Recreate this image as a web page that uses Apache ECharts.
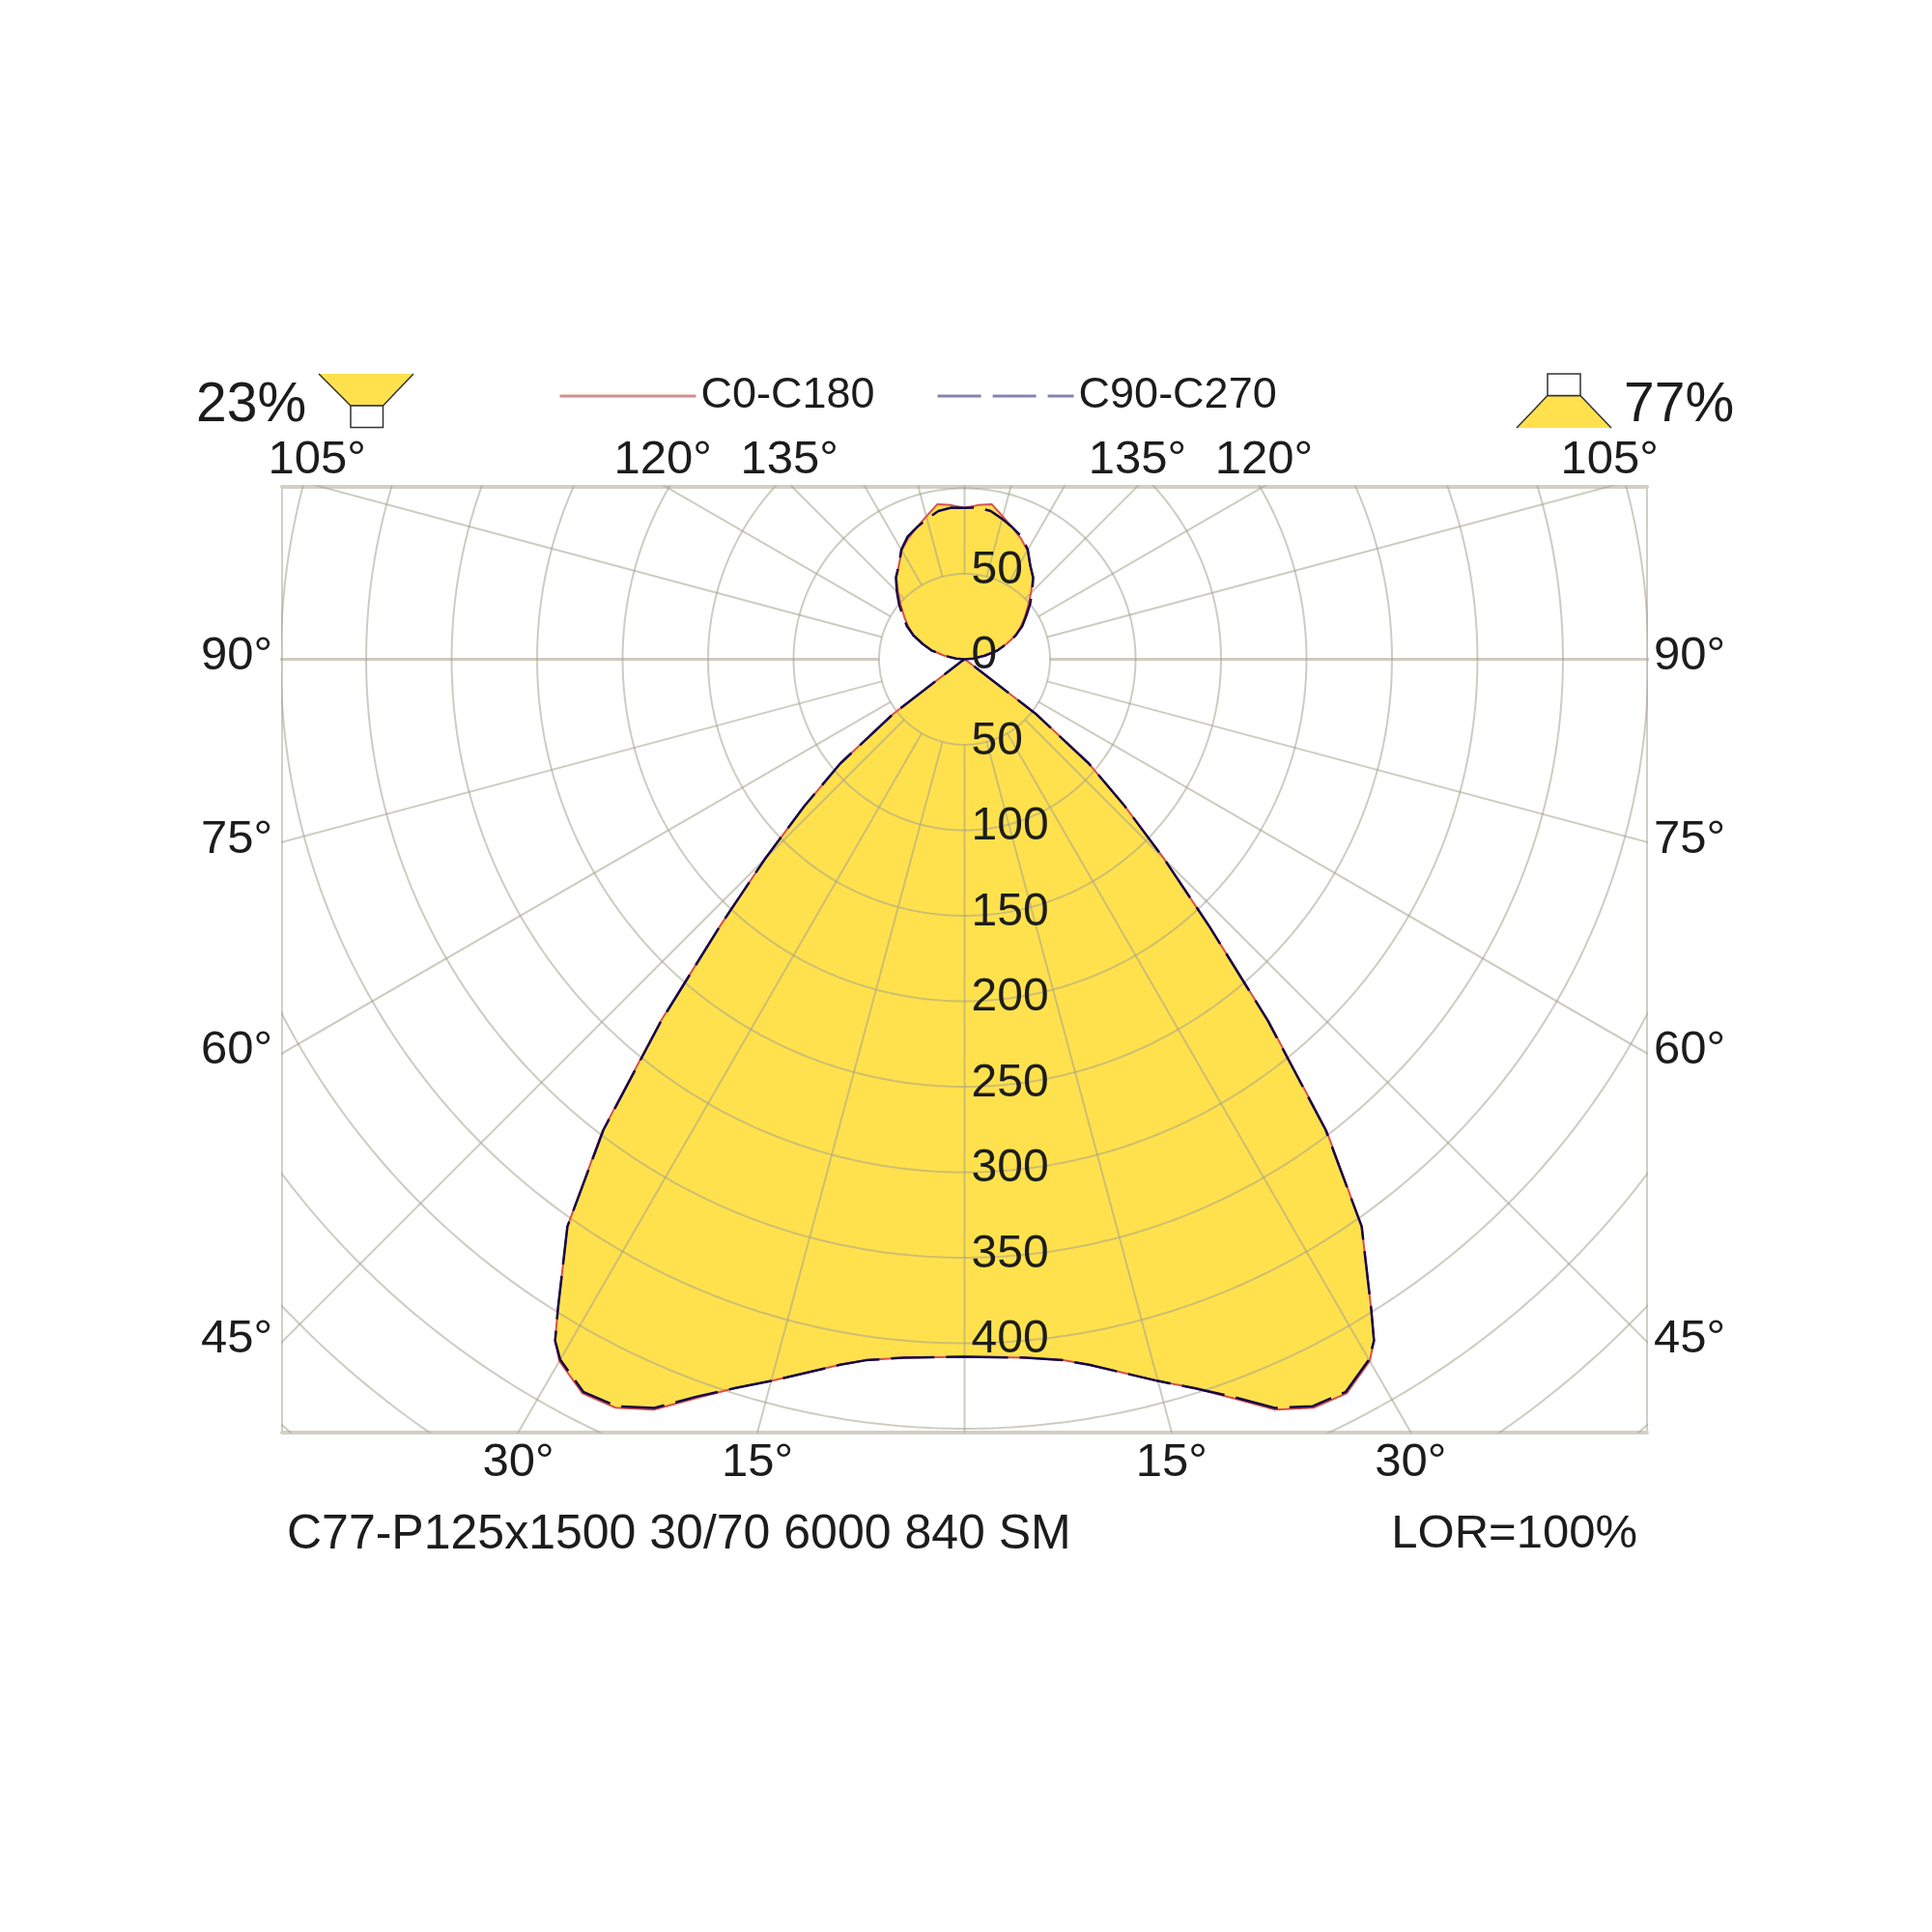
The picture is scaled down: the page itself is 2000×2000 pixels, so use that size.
<!DOCTYPE html>
<html>
<head>
<meta charset="utf-8">
<style>html,body{margin:0;padding:0;background:#fff}#c{width:2000px;height:2000px}</style>
<script src="https://cdn.jsdelivr.net/npm/echarts@6/dist/echarts.min.js"></script>
</head>
<body>
<div id="c"></div>
<script>
// Data: gamma in degrees (0 = straight down), intensity in cd/klm
const gammas = [0,5,8,10,15,17.5,20,22.5,25,27.5,30,31,32,35,37.5,40,42.5,45,47.5,50,52.5,55,60,90,95,100,105,110,115,120,125,130,135,140,145,150,155,160,165,170,175,180];
const c0c180 = [408,410,414,419,437,447,460,475,483,484,474,465,449,405,348,277,212,165,127,95,53,3,0,0,5,12,20,26,33,38,43,48.5,55,62,67,73.5,78,82,86.5,92,90.5,88.5];
const c90c270 = [408,410,414,419,437,447,459,474,482,483,473,465,449,405,347,276,212,165,127,95,53,3,0,0,5,12,20,26,33,39,44,50,56,62.5,67,74,79,82,85,88,89,88.5];
const radialTicks = [0,50,100,150,200,250,300,350,400];
const upperRadialTicks = [50];
const circleValues = [50,100,150,200,250,300,350,400,450,500,550,600,650];
const spokeAngles = [15,30,45,60,75,105,120,135,150,165];
const topAngleTicks = [105,120,135];
const sideAngleTicks = [90,75,60,45];
const bottomAngleTicks = [30,15];
const seriesNames = ['C0-C180','C90-C270'];
const captionLeft = 'C77-P125x1500 30/70 6000 840 SM';
const captionRight = 'LOR=100%';
const upShare = '23%';
const downShare = '77%';

// Visible window of the intensity scale
const xHalf = 399.2, yTop = 101.1, yBottom = -452;
const FONT = '"Liberation Sans", Arial, sans-serif';
const TXT = '#1c1c1c';
const GRID = 'rgba(165,162,140,0.55)';
const rad = d => d * Math.PI / 180;
const toXY = (g, r, side) => [side * r * Math.sin(rad(g)), -r * Math.cos(rad(g))];

function outline(vals) {
  const right = gammas.map((g, i) => toXY(g, vals[i], 1));
  const left = gammas.map((g, i) => toXY(g, vals[i], -1)).reverse();
  return right.concat(left);
}
const c0Pts = outline(c0c180), c90Pts = outline(c90c270);

// gridlines
const GAP = [NaN, NaN];
const arcPts = [];
circleValues.forEach(r => {
  for (let a = 0; a <= 720; a++) { const t = rad(a / 2); arcPts.push([r * Math.sin(t), r * Math.cos(t)]); }
  arcPts.push(GAP);
});
const spokePts = [];
spokeAngles.forEach(g => [1, -1].forEach(s => {
  spokePts.push(toXY(g, 50, s), toXY(g, 900, s), GAP);
}));
spokePts.push([0, -50], [0, -900], GAP, [0, 50], [0, 900], GAP);
const midPts = [[-900, 0], [-50, 0], GAP, [50, 0], [900, 0]];

const gridLine = (name, data, width) => ({
  type: 'line', name, data, showSymbol: false, symbol: 'none', silent: true, z: 3, clip: true,
  connectNulls: false, lineStyle: { color: GRID, width }, legendHoverLink: false, tooltip: { show: false }
});

// labels placed on scale positions
const labelSeries = (name, data, label, size) => ({
  type: 'scatter', name, data, symbolSize: 1, silent: true, z: 10, clip: false,
  itemStyle: { color: 'transparent', opacity: 1 },
  label: Object.assign({
    show: true, formatter: p => p.name, position: 'inside', color: TXT,
    fontFamily: FONT, fontSize: size, verticalAlign: 'middle'
  }, label)
});
const tan = d => Math.tan(rad(d));

const deg = v => v + '°';
const topPts = [];
topAngleTicks.forEach(g => [1, -1].forEach(s => topPts.push({
  name: deg(g), value: [s * yTop * tan(180 - g), yTop], label: { offset: [s < 0 ? -2.5 : 0, -27.5] }
})));
const botPts = [];
bottomAngleTicks.forEach(g => [1, -1].forEach(s => botPts.push({ name: deg(g), value: [s * -yBottom * tan(g), yBottom] })));
const sidePt = (g, s) => ({ name: deg(g), value: [s * xHalf, g === 90 ? 0 : -xHalf / tan(g)] });

const option = {
  animation: false,
  backgroundColor: '#fff',
  grid: { left: 292, top: 503.5, width: 1413, height: 979, show: true, borderColor: '#d2cfc5', borderWidth: 2, backgroundColor: 'transparent' },
  xAxis: [
    { type: 'value', min: -xHalf, max: xHalf, position: 'bottom', axisLabel: { show: false }, axisTick: { show: false }, splitLine: { show: false }, axisLine: { onZero: false, show: true, lineStyle: { color: '#d2cfc5', width: 4 } } },
    { type: 'value', min: -xHalf, max: xHalf, position: 'top', axisLabel: { show: false }, axisTick: { show: false }, splitLine: { show: false }, axisLine: { onZero: false, show: true, lineStyle: { color: '#d2cfc5', width: 4 } } }
  ],
  yAxis: { type: 'value', min: yBottom, max: yTop, axisLabel: { show: false }, axisTick: { show: false }, splitLine: { show: false }, axisLine: { show: false } },
  legend: {
    show: true, left: 573, top: 382.5, itemWidth: 141, itemHeight: 40, itemGap: 63.5, selectedMode: false,
    textStyle: { fontFamily: FONT, fontSize: 45, color: TXT },
    data: [
      { name: seriesNames[0], itemStyle: { color: 'transparent', opacity: 0 }, lineStyle: { color: '#cf8f8f', width: 3, type: 'solid' } },
      { name: seriesNames[1], itemStyle: { color: 'transparent', opacity: 0 }, lineStyle: { color: '#8484b4', width: 3, type: [45, 12] } }
    ]
  },
  series: [
    {
      type: 'custom', name: 'fill', z: 1, silent: true, clip: false, data: c0Pts,
      encode: { x: 0, y: 1 },
      renderItem: (params, api) => {
        if (params.dataIndex !== 0) return null;
        return { type: 'polygon', shape: { points: c0Pts.map(p => api.coord(p)) }, style: { fill: '#ffe14d', stroke: null } };
      }
    },
    gridLine('circles', arcPts, 2),
    gridLine('spokes', spokePts, 2),
    gridLine('spoke90', midPts, 3),
    { type: 'line', name: seriesNames[0], data: c0Pts, showSymbol: false, symbol: 'none', silent: true, z: 5,
      lineStyle: { color: '#d8504a', width: 2 } },
    { type: 'line', name: seriesNames[1], data: c90Pts, showSymbol: false, symbol: 'none', silent: true, z: 6,
      lineStyle: { color: '#14084a', width: 2.5, type: [45, 12] } },
    labelSeries('radialLower', radialTicks.map(v => ({ name: String(v), value: [0, -v] })), { align: 'left', offset: [7, -3.5] }, 48),
    labelSeries('radialUpper', upperRadialTicks.map(v => ({ name: String(v), value: [0, v] })), { align: 'left', offset: [7, -3.5] }, 48),
    labelSeries('topAngles', topPts, { align: 'center', offset: [0, -27.5] }, 49),
    labelSeries('bottomAngles', botPts, { align: 'center', offset: [0, 31.5] }, 49),
    labelSeries('leftAngles', sideAngleTicks.map(g => sidePt(g, -1)), { align: 'right', offset: [-10, -2.5] }, 49),
    labelSeries('rightAngles', sideAngleTicks.map(g => sidePt(g, 1)), { align: 'left', offset: [7, -2.5] }, 49)
  ],
  graphic: [
    { type: 'text', left: 297, top: 1564, style: { text: captionLeft, font: '50px ' + FONT, fill: TXT } },
    { type: 'text', right: 305, top: 1564, style: { text: captionRight, font: '49px ' + FONT, fill: TXT } },
    { type: 'text', left: 203, top: 392, style: { text: upShare, font: '57px ' + FONT, fill: TXT } },
    { type: 'text', left: 1681, top: 392, style: { text: downShare, font: '57px ' + FONT, fill: TXT } },
    { type: 'polygon', shape: { points: [[330, 387], [428, 387], [396.5, 420], [363, 420]] }, style: { fill: '#ffe14d', stroke: null } },
    { type: 'polyline', shape: { points: [[330, 387], [363, 420], [396.5, 420], [428, 387]] }, style: { fill: null, stroke: '#333', lineWidth: 1.5 } },
    { type: 'rect', shape: { x: 363, y: 420, width: 33.5, height: 22.5 }, style: { fill: '#fff', stroke: '#333', lineWidth: 1.5 } },
    { type: 'polygon', shape: { points: [[1602, 409.5], [1636, 409.5], [1668, 443], [1570, 443]] }, style: { fill: '#ffe14d', stroke: null } },
    { type: 'polyline', shape: { points: [[1570, 443], [1602, 409.5], [1636, 409.5], [1668, 443]] }, style: { fill: null, stroke: '#333', lineWidth: 1.5 } },
    { type: 'rect', shape: { x: 1602, y: 387, width: 34, height: 22.5 }, style: { fill: '#fff', stroke: '#333', lineWidth: 1.5 } }
  ]
};
const chart = echarts.init(document.getElementById('c'), null, { width: 2000, height: 2000, renderer: 'canvas' });
chart.setOption(option);
</script>
</body>
</html>
